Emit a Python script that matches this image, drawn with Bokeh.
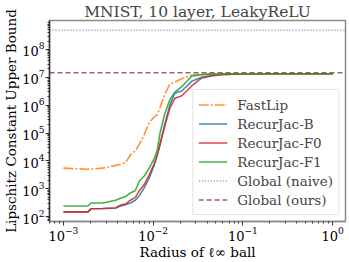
from bokeh.plotting import figure
from bokeh.models import Range1d, FixedTicker, Legend, LegendItem
from bokeh.embed import file_html
from bokeh.resources import INLINE

# ---- data ----
radius = [0.001, 0.00188, 0.00203, 0.00275, 0.00382, 0.00434, 0.00492, 0.00558,
          0.00634, 0.00702, 0.00796, 0.00904, 0.01026, 0.01107, 0.01194, 0.01355,
          0.01538, 0.01746, 0.02084, 0.02685, 0.03451, 0.04446, 0.05728, 0.0951,
          0.2032, 0.4335, 1.0]

fastlip = [5495, 5012, 5129, 5495, 6918, 7586, 8710, 16596, 22909, 39811, 89125,
           234423, 380189, 446684, 831764, 2.57e6, 5.754e6, 6.761e6, 8.9e6, 1.2e7,
           1.28e7, 1.32e7, 1.34e7, 1.35e7, 1.35e7, 1.35e7, 1.35e7]

recurjac_b = [148, 148, 191, 195, 204, 240, 269, 309, 389, 575, 1096, 2455, 6918,
              15488, 39811, 2.2e5, 1.05e6, 2.754e6, 3.236e6, 7.2e6, 1.0e7, 1.17e7,
              1.28e7, 1.33e7, 1.35e7, 1.35e7, 1.35e7]

recurjac_f0 = [148, 148, 191, 195, 204, 263, 282, 389, 490, 871, 1413, 3162, 7943,
               15488, 39811, 1.9e5, 7.9e5, 1.778e6, 2.188e6, 4.9e6, 9.3e6, 1.12e7,
               1.25e7, 1.32e7, 1.34e7, 1.35e7, 1.35e7]

recurjac_f1 = [240, 240, 309, 309, 389, 457, 525, 708, 871, 1905, 2884, 5495, 12023,
               22909, 1.0e5, 524807, 1.6e6, 2.951e6, 4.6e6, 1.1e7, 1.25e7, 1.3e7,
               1.32e7, 1.34e7, 1.35e7, 1.35e7, 1.35e7]

global_naive = 4.9e8
global_ours = 1.45e7

x_lim = [7.0e-4, 1.39]
y_lim = [67.0, 1.096e9]

x_ticks = [1e-3, 1e-2, 1e-1, 1e0]
y_ticks = [1e2, 1e3, 1e4, 1e5, 1e6, 1e7, 1e8]

labels = ["FastLip", "RecurJac-B", "RecurJac-F0", "RecurJac-F1",
          "Global (naive)", "Global (ours)"]
colors = ["#ff7f0e", "#1f77b4", "#d62728", "#2ca02c", "#9467bd", "#8c564b"]

FONT = "DejaVu Serif"

p = figure(width=349, height=262, x_axis_type="log", y_axis_type="log",
           x_range=Range1d(x_lim[0], x_lim[1]), y_range=Range1d(y_lim[0], y_lim[1]),
           output_backend="svg", toolbar_location=None,
           title="MNIST, 10 layer, LeakyReLU",
           x_axis_label="Radius of ℓ∞ ball",
           y_axis_label="Lipschitz Constant Upper Bound",
           min_border_left=46, min_border_right=4, min_border_top=17,
           min_border_bottom=37)
p.title.text_font = FONT
p.title.text_font_size = "15.5px"
p.title.text_font_style = "normal"
p.title.align = "center"
p.title.standoff = 0
p.title.offset = 0

p.grid.visible = False
p.outline_line_color = "#8a8a8a"
p.outline_line_width = 1.5
p.background_fill_color = "white"
p.border_fill_color = "white"

p.xaxis.ticker = FixedTicker(ticks=x_ticks,
                             minor_ticks=[k * 10.0 ** e for e in range(-4, 1) for k in range(2, 10)])
p.yaxis.ticker = FixedTicker(ticks=y_ticks,
                             minor_ticks=[k * 10.0 ** e for e in range(1, 9) for k in range(2, 10)])

for ax in (p.xaxis, p.yaxis):
    ax.major_label_text_font = FONT
    ax.major_label_text_font_size = "13px"
    ax.major_label_text_color = "black"
    ax.axis_label_text_font = FONT
    ax.axis_label_text_font_size = "13.5px"
    ax.axis_label_text_font_style = "normal"
    ax.axis_label_text_color = "black"
    ax.axis_label_standoff = 0
    ax.major_tick_out = 4
    ax.major_tick_in = 0
    ax.minor_tick_out = 2
    ax.minor_tick_in = 0
    ax.major_label_standoff = 1
    ax.axis_line_width = 1.5
    ax.major_tick_line_color = "#333333"
    ax.minor_tick_line_color = "#333333"
p.xaxis.axis_line_color = "#8a8a8a"
p.yaxis.axis_line_color = "#333333"

lw = 1.6
r_fast = p.line(radius, fastlip, line_color=colors[0], line_width=lw, line_alpha=0.85,
                line_dash="10 2 2 2")
r_b = p.line(radius, recurjac_b, line_color=colors[1], line_width=lw, line_alpha=0.85)
r_f0 = p.line(radius, recurjac_f0, line_color=colors[2], line_width=lw, line_alpha=0.85)
r_f1 = p.line(radius, recurjac_f1, line_color=colors[3], line_width=lw, line_alpha=0.85)
r_naive = p.line(x_lim, [global_naive, global_naive], line_color=colors[4], line_width=1.3,
                 line_alpha=0.85, line_dash="1 2")
r_ours = p.line(x_lim, [global_ours, global_ours], line_color=colors[5], line_width=1.5,
                line_alpha=0.9, line_dash="5 3")

legend = Legend(items=[LegendItem(label=l, renderers=[r]) for l, r in
                       zip(labels, [r_fast, r_b, r_f0, r_f1, r_naive, r_ours])],
                location="bottom_right", margin=6)
legend.label_text_font = FONT
legend.label_text_font_size = "13.5px"
legend.glyph_width = 29
legend.glyph_height = 19
legend.label_height = 19
legend.label_standoff = 10
legend.padding = 5
legend.spacing = 0
legend.border_line_color = "#cccccc"
legend.border_line_width = 1
legend.background_fill_alpha = 0.8
p.add_layout(legend)

open("out.html", "w").write(file_html(p, INLINE))
